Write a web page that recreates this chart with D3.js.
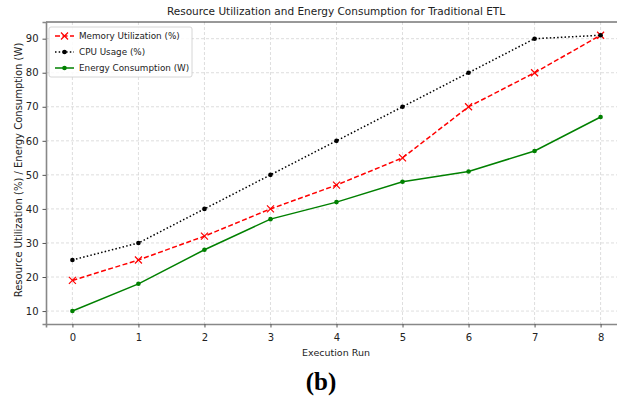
<!DOCTYPE html>
<html>
<head>
<meta charset="utf-8">
<script src="https://cdn.jsdelivr.net/npm/d3@7"></script>
<style>
  body { margin: 0; background: #fff; }
  text { font-family: "DejaVu Sans", sans-serif; fill: #222; }
  text.panel { font-family: "Liberation Serif", "Times New Roman", serif; fill: #000; }
</style>
</head>
<body>
<div id="chart"></div>
<script>
// data
var runs = [0, 1, 2, 3, 4, 5, 6, 7, 8];
var memoryUtil = [19, 25, 32, 40, 47, 55, 70, 80, 91];
var cpuUsage = [25, 30, 40, 50, 60, 70, 80, 90, 91];
var energyUse = [10, 18, 28, 37, 42, 48, 51, 57, 67];
var yTicks = [10, 20, 30, 40, 50, 60, 70, 80, 90];
var seriesNames = ["Memory Utilization (%)", "CPU Usage (%)", "Energy Consumption (W)"];

// setting the dimensions and margins of the chart
var margin = {top: 22, right: 0, bottom: 76, left: 46},
    width = 617 - margin.left - margin.right,
    height = 400 - margin.top - margin.bottom;

var svg = d3.select("#chart").append("svg")
    .attr("width", 617)
    .attr("height", 400)
  .append("g")
    .attr("transform", "translate(" + margin.left + "," + margin.top + ")");

// scales (matplotlib style margins, right side is cut off)
var x = d3.scaleLinear()
    .domain([-0.4, 8.4])
    .range([0, 581]);
var y = d3.scaleLinear()
    .domain([6.2, 94.9])
    .range([height, 0]);

// grid lines
svg.append("g")
    .selectAll("line")
    .data(runs)
  .enter().append("line")
    .attr("x1", function(d) { return x(d); })
    .attr("x2", function(d) { return x(d); })
    .attr("y1", 0)
    .attr("y2", height)
    .attr("stroke", "#d6d6d6")
    .attr("stroke-width", 0.8)
    .attr("stroke-dasharray", "3,2");
svg.append("g")
    .selectAll("line")
    .data(yTicks)
  .enter().append("line")
    .attr("x1", 0)
    .attr("x2", width)
    .attr("y1", function(d) { return y(d); })
    .attr("y2", function(d) { return y(d); })
    .attr("stroke", "#d6d6d6")
    .attr("stroke-width", 0.8)
    .attr("stroke-dasharray", "3,2");

// top spine
svg.append("line")
    .attr("x1", 0).attr("x2", width)
    .attr("y1", 0).attr("y2", 0)
    .attr("stroke", "#333")
    .attr("stroke-width", 1);

// x axis
var xAxis = svg.append("g")
    .attr("transform", "translate(0," + height + ")")
    .call(d3.axisBottom(x).tickValues(runs).tickSize(3.5).tickFormat(d3.format("d")));
xAxis.select(".domain").attr("stroke", "#888").attr("stroke-width", 1.6);
xAxis.selectAll(".tick line").attr("stroke", "#555");
xAxis.selectAll("text").attr("font-size", "10px").attr("dy", "1em");

// y axis
var yAxis = svg.append("g")
    .call(d3.axisLeft(y).tickValues(yTicks).tickSize(3.5));
yAxis.select(".domain").attr("stroke", "#888").attr("stroke-width", 1.6);
yAxis.selectAll(".tick line").attr("stroke", "#555");
yAxis.selectAll("text").attr("font-size", "10px").attr("dx", "-0.1em");

// line helper
var line = d3.line()
    .x(function(d, i) { return x(runs[i]); })
    .y(function(d) { return y(d); });

// memory utilization: red dashed with x markers
svg.append("path")
    .datum(memoryUtil)
    .attr("d", line)
    .attr("fill", "none")
    .attr("stroke", "red")
    .attr("stroke-width", 1.5)
    .attr("stroke-dasharray", "5,2.5");
svg.append("g")
    .selectAll("path")
    .data(memoryUtil)
  .enter().append("path")
    .attr("d", "M-3.5,-3.5L3.5,3.5M-3.5,3.5L3.5,-3.5")
    .attr("transform", function(d, i) { return "translate(" + x(runs[i]) + "," + y(d) + ")"; })
    .attr("stroke", "red")
    .attr("stroke-width", 1.2);

// cpu usage: black dotted with dots
svg.append("path")
    .datum(cpuUsage)
    .attr("d", line)
    .attr("fill", "none")
    .attr("stroke", "black")
    .attr("stroke-width", 1.5)
    .attr("stroke-dasharray", "1.5,2.2");
svg.append("g")
    .selectAll("circle")
    .data(cpuUsage)
  .enter().append("circle")
    .attr("cx", function(d, i) { return x(runs[i]); })
    .attr("cy", function(d) { return y(d); })
    .attr("r", 2.3)
    .attr("fill", "black");

// energy consumption: green solid with dots
svg.append("path")
    .datum(energyUse)
    .attr("d", line)
    .attr("fill", "none")
    .attr("stroke", "green")
    .attr("stroke-width", 1.5);
svg.append("g")
    .selectAll("circle")
    .data(energyUse)
  .enter().append("circle")
    .attr("cx", function(d, i) { return x(runs[i]); })
    .attr("cy", function(d) { return y(d); })
    .attr("r", 2.3)
    .attr("fill", "green");

// legend
var legend = svg.append("g")
    .attr("transform", "translate(3,5)");
legend.append("rect")
    .attr("width", 143)
    .attr("height", 50)
    .attr("rx", 2)
    .attr("fill", "white")
    .attr("fill-opacity", 0.85)
    .attr("stroke", "#ccc")
    .attr("stroke-width", 0.8);

var legendColors = ["red", "black", "green"];
var legendDash = ["5,2.5", "1.5,2.2", null];
seriesNames.forEach(function(name, i) {
    var row = legend.append("g")
        .attr("transform", "translate(6," + (9 + i * 16) + ")");
    row.append("line")
        .attr("x1", 0).attr("x2", 19)
        .attr("stroke", legendColors[i])
        .attr("stroke-width", 1.5)
        .attr("stroke-dasharray", legendDash[i]);
    if (i === 0) {
        row.append("path")
            .attr("d", "M6,-3.5L13,3.5M6,3.5L13,-3.5")
            .attr("stroke", "red")
            .attr("stroke-width", 1.2);
    } else {
        row.append("circle")
            .attr("cx", 9.5).attr("cy", 0).attr("r", 2.3)
            .attr("fill", legendColors[i]);
    }
    row.append("text")
        .attr("x", 24)
        .attr("y", 0)
        .attr("dy", "0.35em")
        .attr("font-size", "8.8px")
        .text(name);
});

// title
svg.append("text")
    .attr("x", 290)
    .attr("y", -7)
    .attr("font-size", "10.5px")
    .attr("text-anchor", "middle")
    .text("Resource Utilization and Energy Consumption for Traditional ETL");

// x axis label
svg.append("text")
    .attr("x", 290)
    .attr("y", height + 32)
    .attr("font-size", "9.5px")
    .attr("text-anchor", "middle")
    .text("Execution Run");

// y axis label
svg.append("text")
    .attr("x", -height / 2 + 3)
    .attr("y", -24)
    .attr("transform", "rotate(-90)")
    .attr("font-size", "10px")
    .attr("text-anchor", "middle")
    .text("Resource Utilization (%) / Energy Consumption (W)");

// panel label
d3.select("svg").append("text")
    .attr("class", "panel")
    .attr("x", 321)
    .attr("y", 390)
    .attr("font-weight", "bold")
    .attr("font-size", "25px")
    .attr("text-anchor", "middle")
    .text("(b)");
</script>
</body>
</html>
